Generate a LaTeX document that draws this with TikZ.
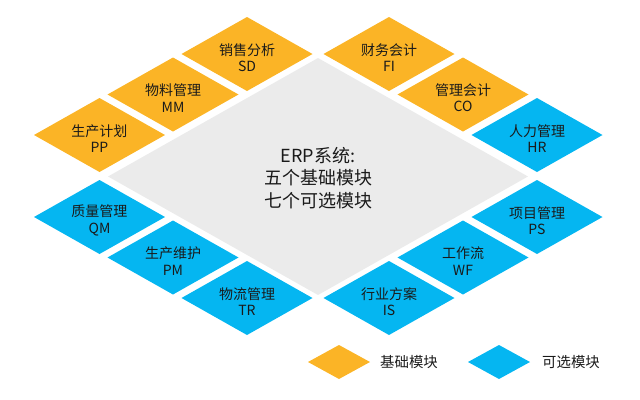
\documentclass[tikz,border=0pt]{standalone}
\usepackage{fontspec}
\setmainfont{Noto Sans CJK SC}
\definecolor{baseorange}{HTML}{FBB426}
\definecolor{optblue}{HTML}{05B6F1}
\definecolor{centergrey}{HTML}{EBEBEB}
\definecolor{txt}{HTML}{1A1A1A}
\tikzset{
  modtext/.style={align=center, text=txt, inner sep=0pt, font=\fontsize{10.5}{12.2}\selectfont},
  centertext/.style={align=center, text=txt, inner sep=0pt, font=\fontsize{13.5}{16.8}\selectfont},
  legtext/.style={text=txt, inner sep=0pt, font=\fontsize{10.8}{13}\selectfont},
}
\newcommand\erpmod[5]{%
  \fill[#4] (#2,#3) +(-65.5,0) -- +(0,-37) -- +(65.5,0) -- +(0,37) -- cycle;
  \node[modtext] (#1) at ($(#2,#3)+(0,3.5)$) {#5};}
\usetikzlibrary{calc}
\begin{document}
\begin{tikzpicture}[x=0.75pt,y=-0.75pt]
\useasboundingbox (0,0) rectangle (640,400);
% central diamond
\fill[centergrey] (318,176.5) +(-210,0) -- +(0,-118.5) -- +(210,0) -- +(0,118.5) -- cycle;
\node[centertext] (erp) at (318,178) {ERP系统:\\五个基础模块\\七个可选模块};
% basic modules
\erpmod{pp}{99.5}{135}{baseorange}{生产计划\\PP}
\erpmod{mm}{173}{94.5}{baseorange}{物料管理\\MM}
\erpmod{sd}{247}{54}{baseorange}{销售分析\\SD}
\erpmod{fi}{389}{54}{baseorange}{财务会计\\FI}
\erpmod{co}{463}{94.5}{baseorange}{管理会计\\CO}
% optional modules
\erpmod{hr}{537}{135}{optblue}{人力管理\\HR}
\erpmod{qm}{99.5}{217}{optblue}{质量管理\\QM}
\erpmod{pm}{173}{257.5}{optblue}{生产维护\\PM}
\erpmod{tr}{247}{298}{optblue}{物流管理\\TR}
\erpmod{is}{389}{298}{optblue}{行业方案\\IS}
\erpmod{wf}{463}{257.5}{optblue}{工作流\\WF}
\erpmod{ps}{537}{217}{optblue}{项目管理\\PS}
% legend
\fill[baseorange] (339,362) +(-31,0) -- +(0,-17) -- +(31,0) -- +(0,17) -- cycle;
\node[legtext] (legbase) at (409,362) {基础模块};
\fill[optblue] (499,362) +(-31,0) -- +(0,-17) -- +(31,0) -- +(0,17) -- cycle;
\node[legtext] (legopt) at (571,362) {可选模块};
\end{tikzpicture}
\end{document}
